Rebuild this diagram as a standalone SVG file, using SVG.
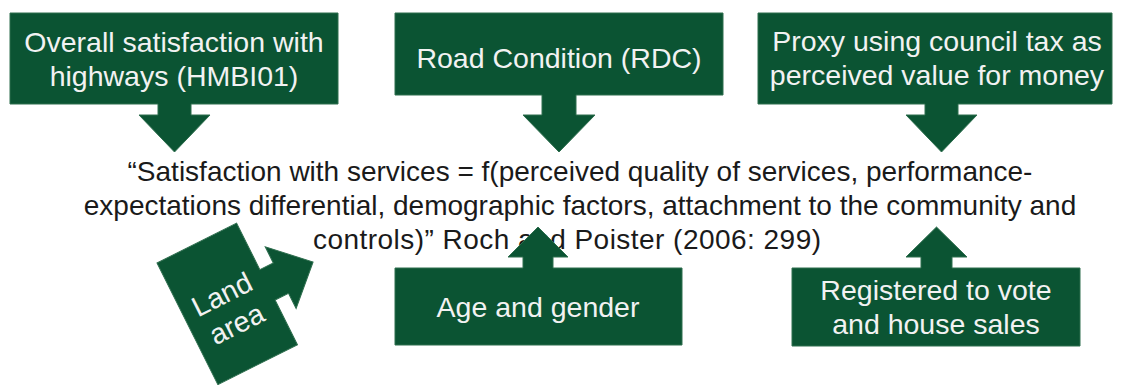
<svg xmlns="http://www.w3.org/2000/svg" width="1122" height="385" viewBox="0 0 1122 385">
  <style>
    .callout { fill: #0b5433; stroke: #2e6e4e; stroke-width: 1; }
    .label { font-family: "Liberation Sans", Arial, sans-serif; font-size: 28.5px; fill: #f2f2f2; text-anchor: middle; }
    .quote { font-family: "Liberation Sans", Arial, sans-serif; font-size: 28px; fill: #1a1a1a; text-anchor: middle; }
  </style>
  <rect width="1122" height="385" fill="#ffffff"/>

  <!-- central quotation -->
  <g id="quote">
    <text class="quote" x="580" y="181">“Satisfaction with services = f(perceived quality of services, performance-</text>
    <text class="quote" x="580" y="215">expectations differential, demographic factors, attachment to the community and</text>
    <text class="quote" x="567" y="249" textLength="508">controls)” Roch and Poister (2006: 299)</text>
  </g>

  <!-- callouts: each box carries its own arrow pointing at the quote -->
  <g id="connectors"></g>

  <g id="overall-satisfaction">
    <path class="callout" d="M10,13 H338 V104 H191 V115 H210 L174.5,152 L139,115 H158 V104 H10 Z"/>
    <text class="label" x="174" y="52">Overall satisfaction with</text>
    <text class="label" x="174" y="86">highways (HMBI01)</text>
  </g>

  <g id="road-condition">
    <path class="callout" d="M395,13 H723 V95 H576 V115 H595 L559,152 L523,115 H542 V95 H395 Z"/>
    <text class="label" x="559" y="68">Road Condition (RDC)</text>
  </g>

  <g id="council-tax">
    <path class="callout" d="M758,13 H1112 V104 H958 V115 H977 L941.5,152 L906,115 H925 V104 H758 Z"/>
    <text class="label" x="937" y="51">Proxy using council tax as</text>
    <text class="label" x="937" y="85">perceived value for money</text>
  </g>

  <g id="land-area" transform="translate(157,263) rotate(-26.6)">
    <path class="callout" d="M0,0 H89 V52 H104 V34 L140,69 L104,103 V86 H89 V136 H0 Z"/>
    <text class="label" x="44" y="67">Land</text>
    <text class="label" x="44" y="100">area</text>
  </g>

  <g id="age-gender">
    <path class="callout" d="M395,268 H523 V257 H508 L538,227 L568,257 H553 V268 H682 V345 H395 Z"/>
    <text class="label" x="538" y="317">Age and gender</text>
  </g>

  <g id="registered-vote">
    <path class="callout" d="M792,268 H921 V257 H906 L936.5,227 L967,257 H952 V268 H1080 V346 H792 Z"/>
    <text class="label" x="936" y="300">Registered to vote</text>
    <text class="label" x="936" y="334">and house sales</text>
  </g>
</svg>
